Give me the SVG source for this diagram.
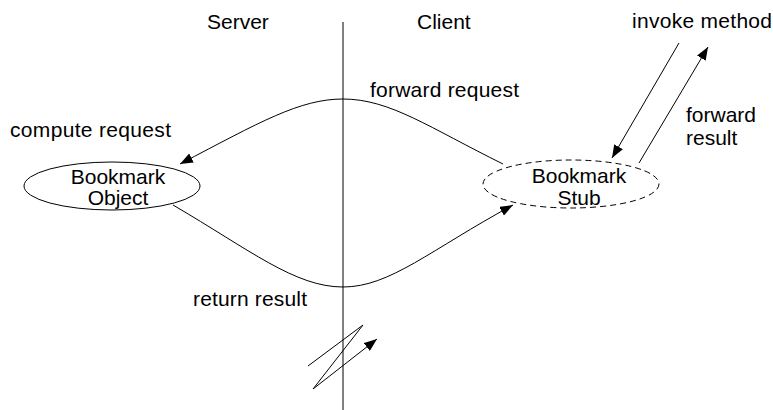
<svg xmlns="http://www.w3.org/2000/svg" width="773" height="410" viewBox="0 0 773 410">
<style>
text{font-family:"Liberation Sans",Arial,sans-serif;font-size:21px;fill:#000}
.c{text-anchor:middle}
.ln{fill:none;stroke:#000;stroke-width:1}
.node{fill:#fff;stroke:#000;stroke-width:1}
.dash{stroke-dasharray:6 4}
</style>
<defs>
<marker id="ah" markerUnits="userSpaceOnUse" markerWidth="14" markerHeight="10" refX="13" refY="5" orient="auto">
<path d="M0,0 L13,5 L0,10 Z" fill="#000"/>
</marker>
</defs>
<rect width="773" height="410" fill="#fff"/>
<g id="labels">
<text x="207" y="29">Server</text>
<text x="417" y="29">Client</text>
<text x="632" y="28" textLength="140">invoke method</text>
<text x="370" y="97" textLength="149">forward request</text>
<text x="10" y="137" textLength="161">compute request</text>
<text x="686" y="122">forward</text>
<text x="686" y="145">result</text>
<text x="193" y="306" textLength="114">return result</text>
</g>
<g id="connectors">
<line class="ln" x1="343" y1="22" x2="343" y2="410"/>
<path class="ln" d="M503,164 C430,128 390,99 343,99 C300,99 260,122 180,164" marker-end="url(#ah)"/>
<path class="ln" d="M173,205 C250,250 295,287 343,287 C390,287 430,250 513,205" marker-end="url(#ah)"/>
<line class="ln" x1="679" y1="43" x2="612" y2="158" marker-end="url(#ah)"/>
<line class="ln" x1="639" y1="163" x2="708" y2="47" marker-end="url(#ah)"/>
<polyline class="ln" points="308,366 363,325 313,389 377,339" marker-end="url(#ah)"/>
</g>
<g id="bookmark-object">
<ellipse class="node" cx="112" cy="186" rx="88" ry="24"/>
<text class="c" x="118" y="184">Bookmark</text>
<text class="c" x="118" y="205">Object</text>
</g>
<g id="bookmark-stub">
<ellipse class="node dash" cx="571" cy="184" rx="88" ry="24"/>
<text class="c" x="579" y="183">Bookmark</text>
<text class="c" x="579" y="205">Stub</text>
</g>
</svg>
